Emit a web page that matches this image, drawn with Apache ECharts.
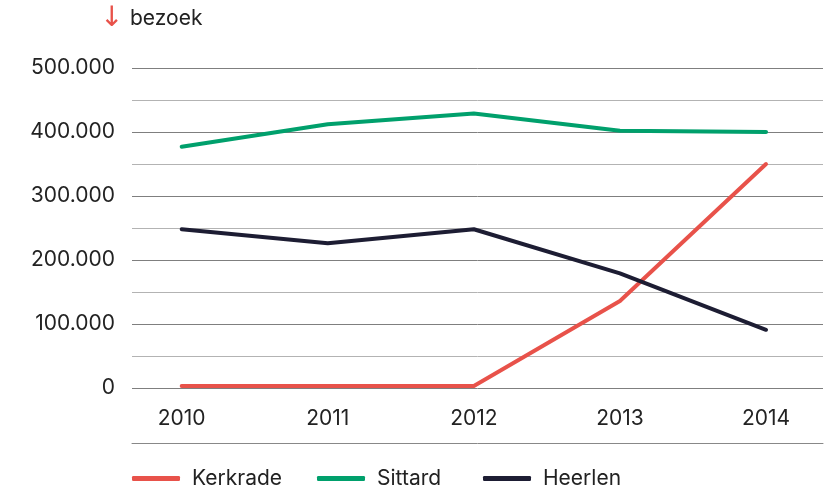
<!DOCTYPE html>
<html>
<head>
<meta charset="utf-8">
<script src="https://cdn.jsdelivr.net/npm/echarts@6/dist/echarts.min.js"></script>
<style>
  html, body { margin: 0; padding: 0; background: #fff; }
  #chart { width: 832px; height: 487px; }
</style>
</head>
<body>
<div id="chart"></div>
<script>
// jaren en bezoekersaantallen
const years = [2010, 2011, 2012, 2013, 2014]
const kerkrade = [3000, 3000, 3000, 136000, 350000]
const sittard = [377000, 412000, 429000, 402000, 400000]
const heerlen = [248000, 226000, 248000, 179000, 91000]

const seriesNames = ['Kerkrade', 'Sittard', 'Heerlen']
const seriesColors = ['#e8524a', '#00a06c', '#1d1d33']
const legendLeft = [127, 312, 478]

const fontFamily = 'Inter, Roboto, "Noto Sans", sans-serif'

// duizendtallen met een punt
const fmt = v => String(v).replace(/\B(?=(\d{3})+(?!\d))/g, '.')

const toPairs = arr => arr.map((v, i) => [years[i], v])

const chart = echarts.init(document.getElementById('chart'))

chart.setOption({
  animation: false,
  textStyle: { fontFamily },
  graphic: [
    {
      type: 'text',
      left: 100,
      top: 5,
      style: { text: '↓', fill: '#e8524a', font: '28px "DejaVu Sans", sans-serif' }
    },
    {
      type: 'text',
      left: 130,
      top: 8,
      style: { text: 'bezoek', fill: '#222', font: '21px ' + fontFamily }
    }
  ],
  grid: {
    left: 132,
    right: 9,
    top: 68,
    bottom: 99
  },
  // één legenda per reeks, zodat elke positie klopt
  legend: seriesNames.map((name, i) => ({
    left: legendLeft[i],
    top: 463,
    icon: 'roundRect',
    itemWidth: 48,
    itemHeight: 5,
    textStyle: { fontSize: 21, color: '#222', padding: [0, 0, 0, 7] },
    data: [name]
  })),
  xAxis: {
    type: 'value',
    min: 2009.66,
    max: 2014.39,
    offset: 55,
    axisLine: { show: true, onZero: false, lineStyle: { color: '#888', width: 1 } },
    axisTick: { show: false },
    splitLine: { show: false },
    axisLabel: {
      inside: true,
      margin: 14,
      fontSize: 21,
      color: '#222',
      customValues: years,
      formatter: v => String(v)
    }
  },
  yAxis: {
    type: 'value',
    min: 0,
    max: 500000,
    interval: 100000,
    axisLine: { show: false },
    axisTick: { show: false },
    axisLabel: {
      margin: 17,
      fontSize: 21,
      color: '#222',
      formatter: v => fmt(v)
    },
    splitLine: { lineStyle: { color: '#7f7f7f', width: 1 } },
    minorTick: { show: false, splitNumber: 2 },
    minorSplitLine: { show: true, lineStyle: { color: '#b3b3b3', width: 1 } }
  },
  series: [kerkrade, sittard, heerlen].map((arr, i) => ({
    name: seriesNames[i],
    type: 'line',
    data: toPairs(arr),
    symbol: 'none',
    color: seriesColors[i],
    lineStyle: { width: 4, color: seriesColors[i], cap: 'round', join: 'round' }
  }))
})
</script>
</body>
</html>
